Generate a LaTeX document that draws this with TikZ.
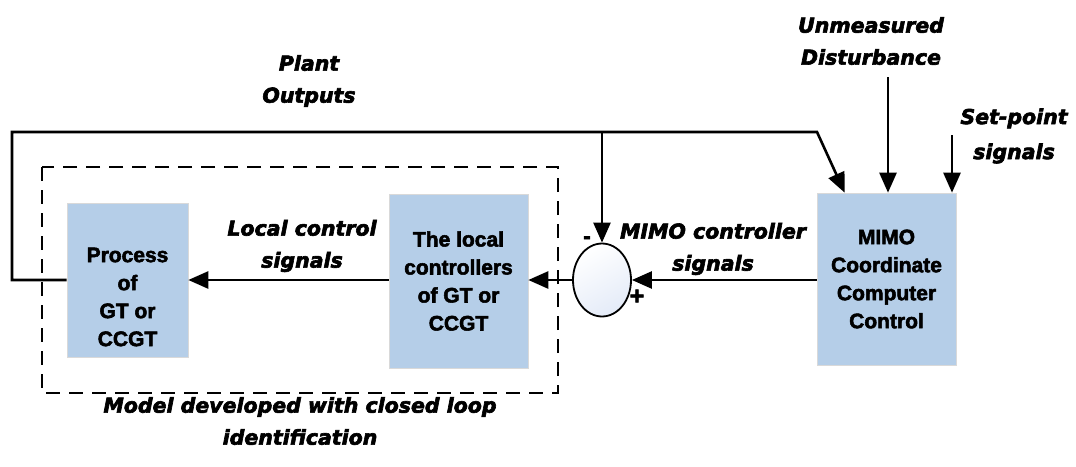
\documentclass[tikz,border=0pt]{standalone}
\usepackage{fontspec}
\setmainfont{Liberation Sans}[BoldFeatures={FakeBold=2.5}]
\newfontfamily\lblfont{DejaVu Sans}[BoldItalicFeatures={FakeBold=3}]
\usetikzlibrary{positioning,arrows.meta,calc,shapes.geometric}
\definecolor{blkblue}{RGB}{181,206,232}
\definecolor{sumblue}{RGB}{228,235,248}

\begin{document}
\begin{tikzpicture}[x=1pt,y=-1pt,
  blk/.style={draw=black!15,fill=blkblue,line width=0.6pt,inner sep=0pt,align=center,font=\fontsize{21}{28}\selectfont\bfseries},
  blktxt/.style={inner sep=0pt,align=center,font=\fontsize{21}{28}\selectfont\bfseries},
  lbl/.style={inner sep=0pt,align=center,font=\lblfont\fontsize{20.5}{32}\selectfont\bfseries\itshape},
  sig/.style={line width=2.6pt,-{Triangle[length=20pt,width=17pt]}},
  dashbox/.style={line width=1.8pt,dash pattern=on 14pt off 9pt}]
\useasboundingbox (0,0) rectangle (1076,466);
% blocks
\draw[dashbox] (42,167) rectangle (558,393);
\node[blk,minimum width=121pt,minimum height=154pt] (proc) at (127.5,280) {};
\node[blktxt] (proctxt) at ([yshift=-17pt]proc.center) {Process\\of\\GT or\\CCGT};
\node[blk,minimum width=139pt,minimum height=174pt] (loc) at (458.5,281) {The local\\controllers\\of GT or\\CCGT};
\node[blk,minimum width=139pt,minimum height=172pt] (mimo) at (886.5,279) {MIMO\\Coordinate\\Computer\\Control};
\node[draw,ellipse,line width=1.8pt,minimum width=58pt,minimum height=73pt,inner sep=0pt,
  top color=white,bottom color=sumblue,shading angle=30] (sum) at (602,280) {};
\node[font=\fontsize{22}{22}\selectfont\bfseries] (minus) at (587,240) {-};
\node[font=\fontsize{25}{25}\selectfont\bfseries] (plus) at (637,297) {+};
% signal paths
\coordinate (fbl) at (12,132);
\coordinate (fbr) at (817,132);
\coordinate (dist) at (888,77);
\coordinate (setp) at (952,135);
\draw[sig] (mimo.west |- sum.east) -- (sum.east);
\draw[sig] (sum.west) -- (sum.west -| loc.east);
\draw[sig] (loc.west |- sum.west) -- (proc.east |- sum.west);
\draw[sig] (proc.west |- sum.west) -| (fbl) -- (fbr) -- ([xshift=28pt]mimo.north west);
\draw[sig] (sum.north |- fbl) -- (sum.north);
\draw[sig] (dist) -- (dist |- mimo.north);
\draw[sig] (setp) -- (setp |- mimo.north);
% labels
\node[lbl] (plantout) at (309,81) {Plant\\Outputs};
\node[lbl] (unmeas) at (871,41) {Unmeasured\\Disturbance};
\node[lbl,font=\lblfont\fontsize{20.5}{35}\selectfont\bfseries\itshape] (setptlbl) at (1014,136) {Set-point\\signals};
\node[lbl] (mimosig) at (713,249) {MIMO controller\\signals};
\node[lbl] (locsig) at (302,246) {Local control\\signals};
\node[lbl] (model) at (300,421) {Model developed with closed loop\\identification};
\end{tikzpicture}
\end{document}
